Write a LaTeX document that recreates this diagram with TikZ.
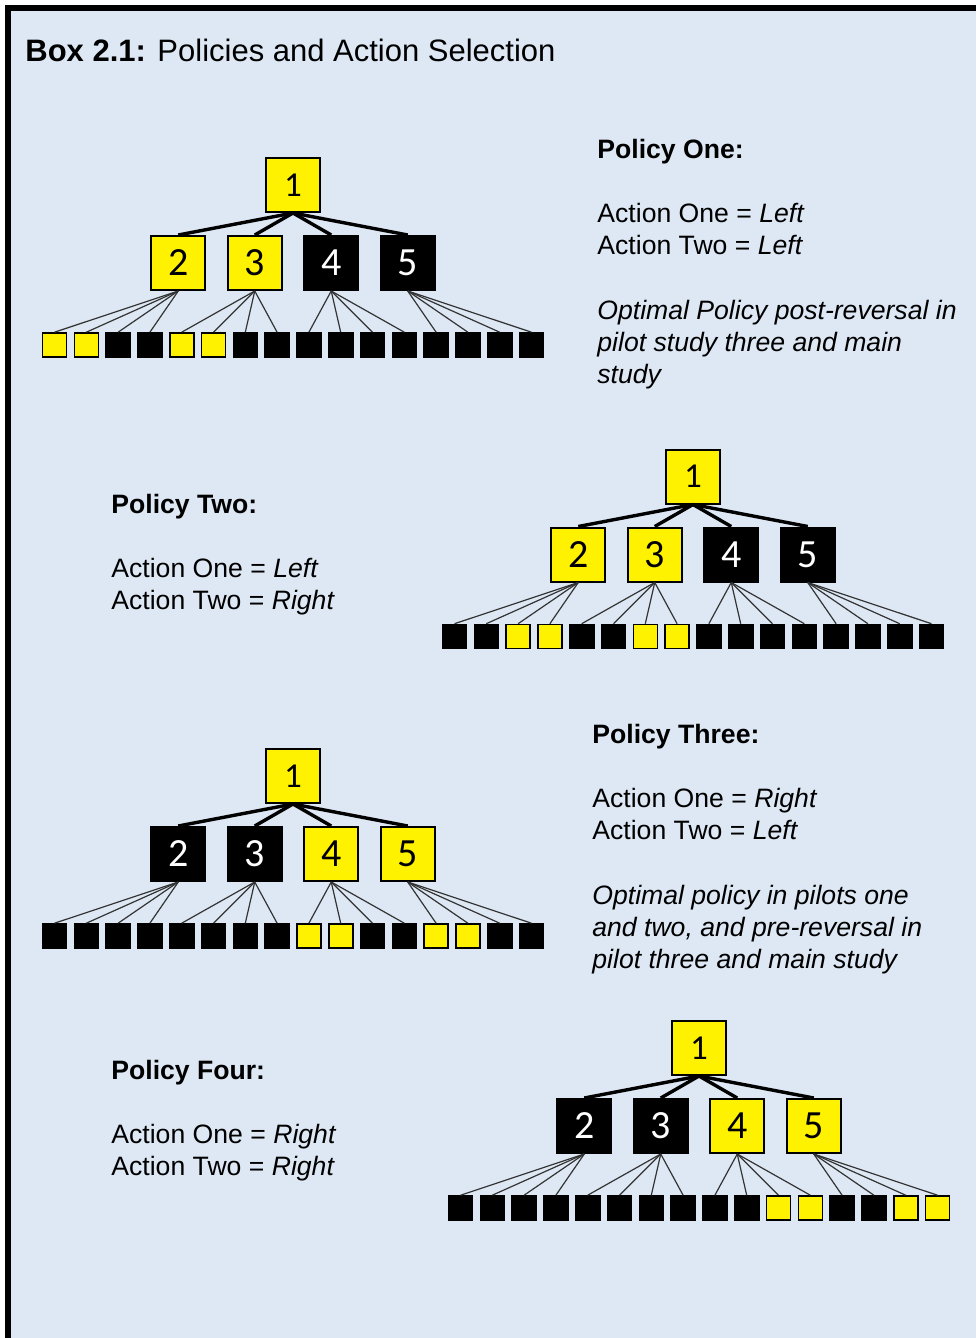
\documentclass[tikz,border=0pt]{standalone}
\usepackage{fontspec}
\setmainfont{Liberation Sans}
\newfontfamily\digitfont{Carlito}
\usetikzlibrary{positioning}
\definecolor{boxblue}{HTML}{DDE8F4}

\begin{document}
\begin{tikzpicture}[x=0.5pt,y=-0.5pt,
  box/.style={draw=black,line width=1pt,minimum size=27pt,inner sep=0pt,font=\digitfont\fontsize{20}{20}\selectfont},
  rootbox/.style={box,font=\digitfont\fontsize{17.5}{17.5}\selectfont},
  yel/.style={fill=yellow,text=black},
  blk/.style={fill=black,text=white},
  leaf/.style={draw=black,line width=0.8pt,minimum size=12pt,inner sep=0pt},
  trunk/.style={line width=1.7pt},
  twig/.style={line width=0.6pt,draw=black!80},
  txt/.style={anchor=base west,inner sep=0pt,font=\fontsize{13.3}{16}\selectfont},
  head/.style={txt,font=\fontsize{13.3}{16}\selectfont\bfseries}
]
\useasboundingbox (0,0) rectangle (976,1338);
\fill[white] (0,0) rectangle (976,1338);
\fill[boxblue] (8,8) rectangle (976,1338);
\draw[line width=3pt] (8,1338) -- (8,8) -- (976,8);

\node[txt,font=\fontsize{15.5}{18}\selectfont] (title) at (25,62) {\textbf{Box 2.1:} Policies and Action Selection};

% Policy One
\begin{scope}[shift={(293,185)}]
\node[rootbox,yel] (p1r) at (0,0) {1};
\node[box,yel] (p1n2) at (-114.75,78) {2};
\node[box,yel] (p1n3) at (-38.25,78) {3};
\node[box,blk] (p1n4) at (38.25,78) {4};
\node[box,blk] (p1n5) at (114.75,78) {5};
\foreach \fc [count=\i] in {yellow,yellow,black,black,yellow,yellow,black,black,black,black,black,black,black,black,black,black}
  \node[leaf,fill=\fc] (p1l\i) at ({-238.5+31.8*(\i-1)},160) {};
\foreach \j in {2,...,5}
  \draw[trunk] (p1r.south) -- (p1n\j.north);
\foreach \i in {1,...,16} {
  \pgfmathtruncatemacro{\up}{int((\i-1)/4)+2}
  \draw[twig] (p1n\up.south) -- (p1l\i.north);
}
\end{scope}
\node[head] (p1head) at (597,158) {Policy One:};
\node[txt] (p1a) at (597,222) {Action One = \textit{Left}};
\node[txt] (p1b) at (597,254) {Action Two = \textit{Left}};
\node[txt] (p1c) at (597,319) {\textit{Optimal Policy post-reversal in}};
\node[txt] (p1d) at (597,351) {\textit{pilot study three and main}};
\node[txt] (p1e) at (597,383) {\textit{study}};

% Policy Two
\begin{scope}[shift={(693,476.5)}]
\node[rootbox,yel] (p2r) at (0,0) {1};
\node[box,yel] (p2n2) at (-114.75,78) {2};
\node[box,yel] (p2n3) at (-38.25,78) {3};
\node[box,blk] (p2n4) at (38.25,78) {4};
\node[box,blk] (p2n5) at (114.75,78) {5};
\foreach \fc [count=\i] in {black,black,yellow,yellow,black,black,yellow,yellow,black,black,black,black,black,black,black,black}
  \node[leaf,fill=\fc] (p2l\i) at ({-238.5+31.8*(\i-1)},160) {};
\foreach \j in {2,...,5}
  \draw[trunk] (p2r.south) -- (p2n\j.north);
\foreach \i in {1,...,16} {
  \pgfmathtruncatemacro{\up}{int((\i-1)/4)+2}
  \draw[twig] (p2n\up.south) -- (p2l\i.north);
}
\end{scope}
\node[head] (p2head) at (111,513) {Policy Two:};
\node[txt] (p2a) at (111,577) {Action One = \textit{Left}};
\node[txt] (p2b) at (111,609) {Action Two = \textit{Right}};

% Policy Three
\begin{scope}[shift={(293,776)}]
\node[rootbox,yel] (p3r) at (0,0) {1};
\node[box,blk] (p3n2) at (-114.75,78) {2};
\node[box,blk] (p3n3) at (-38.25,78) {3};
\node[box,yel] (p3n4) at (38.25,78) {4};
\node[box,yel] (p3n5) at (114.75,78) {5};
\foreach \fc [count=\i] in {black,black,black,black,black,black,black,black,yellow,yellow,black,black,yellow,yellow,black,black}
  \node[leaf,fill=\fc] (p3l\i) at ({-238.5+31.8*(\i-1)},160) {};
\foreach \j in {2,...,5}
  \draw[trunk] (p3r.south) -- (p3n\j.north);
\foreach \i in {1,...,16} {
  \pgfmathtruncatemacro{\up}{int((\i-1)/4)+2}
  \draw[twig] (p3n\up.south) -- (p3l\i.north);
}
\end{scope}
\node[head] (p3head) at (592,743) {Policy Three:};
\node[txt] (p3a) at (592,807) {Action One = \textit{Right}};
\node[txt] (p3b) at (592,839) {Action Two = \textit{Left}};
\node[txt] (p3c) at (592,904) {\textit{Optimal policy in pilots one}};
\node[txt] (p3d) at (592,936) {\textit{and two, and pre-reversal in}};
\node[txt] (p3e) at (592,968) {\textit{pilot three and main study}};

% Policy Four
\begin{scope}[shift={(699,1048)}]
\node[rootbox,yel] (p4r) at (0,0) {1};
\node[box,blk] (p4n2) at (-114.75,78) {2};
\node[box,blk] (p4n3) at (-38.25,78) {3};
\node[box,yel] (p4n4) at (38.25,78) {4};
\node[box,yel] (p4n5) at (114.75,78) {5};
\foreach \fc [count=\i] in {black,black,black,black,black,black,black,black,black,black,yellow,yellow,black,black,yellow,yellow}
  \node[leaf,fill=\fc] (p4l\i) at ({-238.5+31.8*(\i-1)},160) {};
\foreach \j in {2,...,5}
  \draw[trunk] (p4r.south) -- (p4n\j.north);
\foreach \i in {1,...,16} {
  \pgfmathtruncatemacro{\up}{int((\i-1)/4)+2}
  \draw[twig] (p4n\up.south) -- (p4l\i.north);
}
\end{scope}
\node[head] (p4head) at (111,1079) {Policy Four:};
\node[txt] (p4a) at (111,1143) {Action One = \textit{Right}};
\node[txt] (p4b) at (111,1175) {Action Two = \textit{Right}};
\end{tikzpicture}
\end{document}
